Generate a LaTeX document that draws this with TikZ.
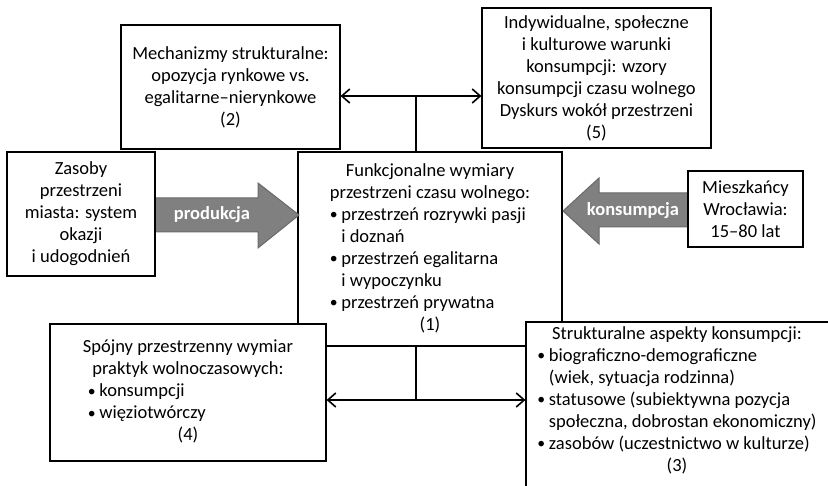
\documentclass[tikz,border=0pt]{standalone}
\usepackage{fontspec}
\setmainfont{Carlito}
\usetikzlibrary{arrows.meta}
\definecolor{arrfill}{RGB}{128,128,128}
\definecolor{arrdraw}{RGB}{105,105,105}
\newcommand\mybul{\makebox[11.5pt][l]{\raisebox{0.5pt}{\scalebox{0.85}{\textbullet}}}}
\newcommand\myind{\hspace*{11.5pt}}
\newcommand\ctr[1]{\multicolumn{1}{@{}c@{}}{#1}}
\begin{document}
\begin{tikzpicture}[x=1pt,y=-1pt,
  box/.style={draw=black, line width=1.1pt, fill=white, inner sep=0pt,
    font=\fontsize{18.5}{22}\selectfont, align=center},
  txt/.style={inner sep=0pt, font=\fontsize{18.5}{22}\selectfont, align=center},
  conn/.style={line width=1.6pt, {Straight Barb[length=8pt,width=14pt]}-{Straight Barb[length=8pt,width=14pt]}},
  stem/.style={line width=1.6pt},
  bigarrow/.style={fill=arrfill, draw=arrdraw, line width=1pt, line join=miter},
  arrlabel/.style={text=white, inner sep=0pt, font=\fontsize{18.5}{22}\selectfont\bfseries}]
\useasboundingbox (0,0) rectangle (828,486);
\clip (0,0) rectangle (828,486);

% central box (1)
\node[box, minimum width=264pt, minimum height=194pt] (f1) at (430,249) {%
\begin{tabular}{@{}l@{}}
\ctr{Funkcjonalne wymiary}\\
\ctr{przestrzeni czasu wolnego:}\\
\mybul przestrzeń rozrywki pasji\\
\myind i doznań\\
\mybul przestrzeń egalitarna\\
\myind i wypoczynku\\
\mybul przestrzeń prywatna\\
\ctr{(1)}
\end{tabular}};

% big arrows
\draw[bigarrow] (155,198) -- (258,198) -- (258,183) -- (299,215) -- (258,248) -- (258,232) -- (155,232) -- cycle;
\node[arrlabel] (prod) at (212,215) {produkcja};
\draw[bigarrow] (688,193) -- (599,193) -- (599,178) -- (563,211) -- (599,244) -- (599,227) -- (688,227) -- cycle;
\node[arrlabel] (kons) at (633,211) {konsumpcja};

% boxes
\node[box, minimum width=219pt, minimum height=124pt] (m2) at (230.5,87) {Mechanizmy strukturalne:\\opozycja rynkowe vs.\\egalitarne–nierynkowe\\(2)};
\node[box, minimum width=229pt, minimum height=140pt] (m5) at (596.5,78) {Indywidualne, społeczne\\i kulturowe warunki\\konsumpcji: wzory\\konsumpcji czasu wolnego\\Dyskurs wokół przestrzeni\\(5)};
\node[box, minimum width=148pt, minimum height=124pt] (zas) at (81,214) {Zasoby\\przestrzeni\\miasta: system\\okazji\\i udogodnień};
\node[box, minimum width=115pt, minimum height=76pt] (mie) at (745.5,209) {Mieszkańcy\\Wrocławia:\\15–80 lat};
\node[box, minimum width=276pt, minimum height=137pt] (s4) at (188,392.5) {%
\begin{tabular}{@{}l@{}}
\ctr{Spójny przestrzenny wymiar}\\
\ctr{praktyk wolnoczasowych:}\\
\hspace*{5pt}\mybul konsumpcji\\
\hspace*{5pt}\mybul więziotwórczy\\
\ctr{(4)}
\end{tabular}};
\node[box, minimum width=314pt, minimum height=178pt] (s3) at (683,411) {};
\node[txt] (s3t) at (677,401) {%
\begin{tabular}{@{}l@{}}
\ctr{Strukturalne aspekty konsumpcji:}\\
\mybul biograficzno-demograficzne\\
\myind (wiek, sytuacja rodzinna)\\
\mybul statusowe (subiektywna pozycja\\
\myind społeczna, dobrostan ekonomiczny)\\
\mybul zasobów (uczestnictwo w kulturze)\\
\ctr{(3)}
\end{tabular}};

% connectors
\coordinate (tj) at (416,96);
\draw[conn] (m2.east |- tj) -- (m5.west |- tj);
\draw[stem] (tj) -- (tj |- f1.north);
\coordinate (bj) at (416,400);
\draw[conn] (s4.east |- bj) -- (s3.west |- bj);
\draw[stem] (bj) -- (bj |- f1.south);
\end{tikzpicture}
\end{document}
